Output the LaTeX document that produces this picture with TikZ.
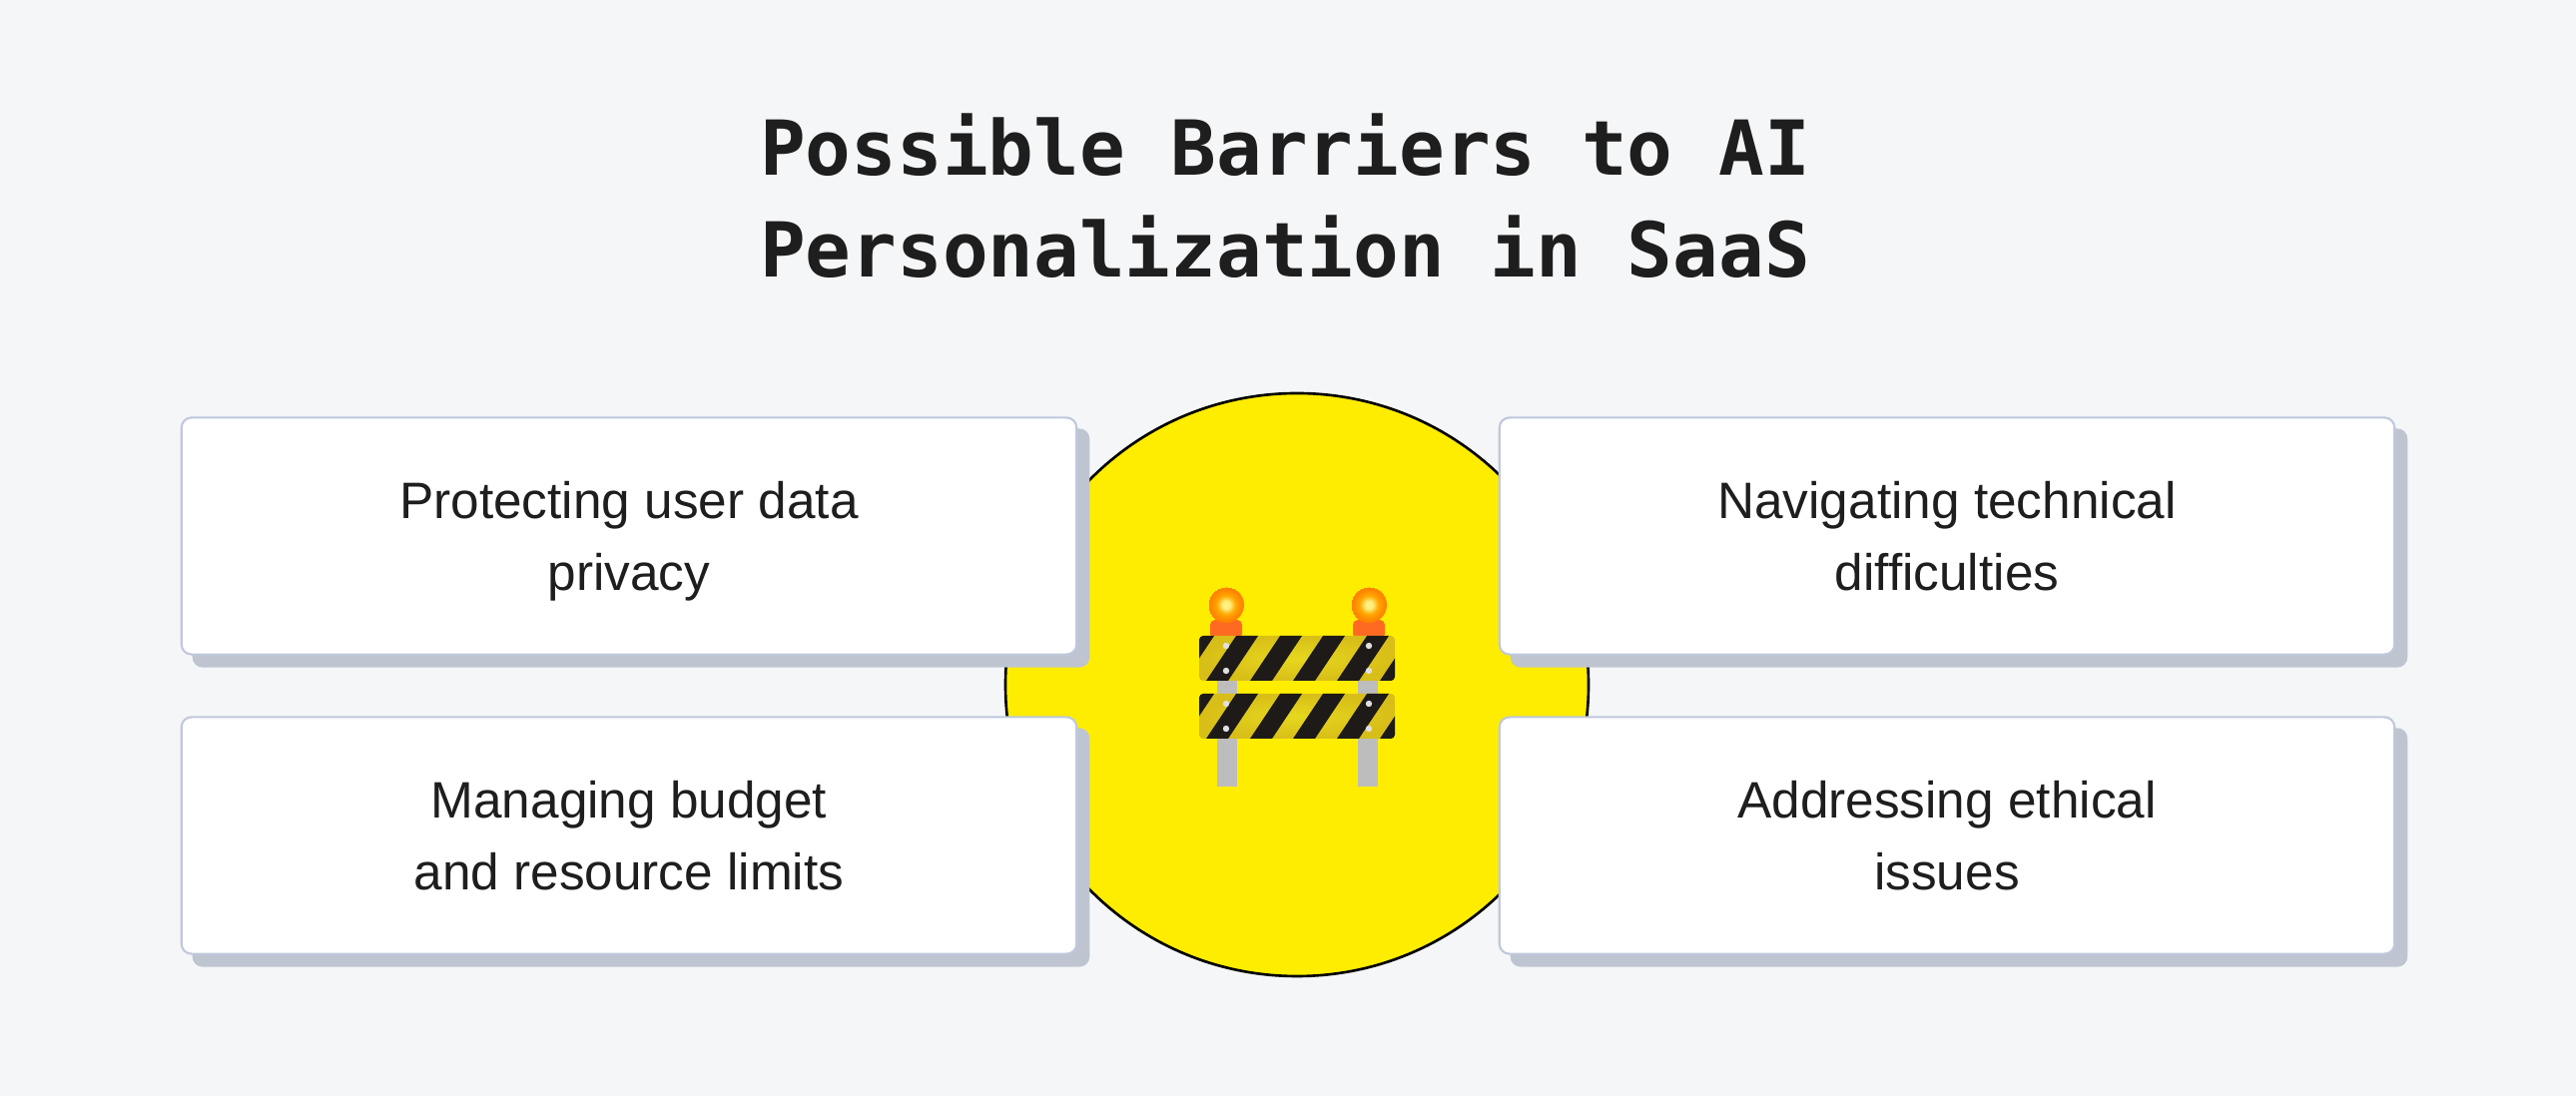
\documentclass[tikz,border=0pt]{standalone}
\usepackage{fontspec}
\setmainfont{Liberation Sans}
\newfontfamily\titlefont{DejaVu Sans Mono}
\definecolor{pagebg}{HTML}{F5F6F8}
\definecolor{signyellow}{HTML}{FFED00}
\definecolor{cardshadow}{HTML}{BEC5D1}
\definecolor{cardline}{HTML}{BFC8DC}
\definecolor{inkdark}{HTML}{1E1E1E}
\definecolor{stripeblack}{HTML}{1E1A18}
\definecolor{boardmid}{HTML}{E6D81E}
\definecolor{boardedge}{HTML}{D8BE18}
\definecolor{postgrey}{HTML}{BDBDBD}
\definecolor{lampred}{HTML}{FF6A22}
\definecolor{lamprim}{HTML}{FF8400}
\definecolor{lampmid}{HTML}{FFA800}
\definecolor{lampcore}{HTML}{FFF080}
\pgfdeclareradialshading{lampglow}{\pgfpointorigin}{color(0bp)=(lampcore);color(5bp)=(lampcore);color(13bp)=(lampmid);color(22bp)=(lamprim);color(25bp)=(lamprim)}
\tikzset{
  barriercard/.style={draw=cardline,line width=0.6pt,fill=white,rounded corners=1mm,minimum width=8.96cm,minimum height=2.37cm,align=center,text=inkdark,font=\fontsize{14.6pt}{20.5pt}\selectfont,execute at begin node=\rule[-3.6pt]{0pt}{38.4pt}},
  cardback/.style={fill=cardshadow,rounded corners=1mm,minimum width=8.98cm,minimum height=2.39cm},
  lampbase/.style={fill=lampred,rounded corners=0.5mm},
}
\begin{document}
\begin{tikzpicture}[x=0.01cm,y=-0.01cm]
\fill[pagebg](0,0)rectangle(2580,1098);
\node[font=\titlefont\bfseries\fontsize{21.6pt}{29pt}\selectfont,text=inkdark,align=center](title)at(1287,196){Possible Barriers to AI\\Personalization in SaaS};
\draw[fill=signyellow,line width=0.75pt](1299,686)circle(292);
\node[cardback](shadowa)at(642,549){};
\node[cardback](shadowb)at(642,849){};
\node[cardback](shadowc)at(1962,549){};
\node[cardback](shadowd)at(1962,849){};
\node[barriercard](privacy)at(630,537){Protecting user data\\privacy};
\node[barriercard](budget)at(630,837){Managing budget\\and resource limits};
\node[barriercard](technical)at(1950,537){Navigating technical\\difficulties};
\node[barriercard](ethical)at(1950,837){Addressing ethical\\issues};
\fill[postgrey](1219,680)rectangle(1239,788);
\fill[postgrey](1360,680)rectangle(1380,788);
\foreach \lampx in {1228,1371}{
\fill[lampbase](\lampx-16,621)rectangle(\lampx+16,640);
\shade[shading=lampglow](\lampx,606)circle(18);
}
\foreach \boardy in {637,695}{
\begin{scope}
\clip[rounded corners=0.4mm](1201,\boardy)rectangle(1397,\boardy+45);
\shade[inner color=boardmid,outer color=boardedge](1201,\boardy)rectangle(1397,\boardy+45);
\foreach \stripex in {1164,1208,1252,1295,1339,1382}{
\fill[stripeblack](\stripex,\boardy+45)--(\stripex+22,\boardy+45)--(\stripex+52,\boardy)--(\stripex+30,\boardy)--cycle;
}
\end{scope}
\foreach \boltx in {1228,1371}{
\fill[white!88!black](\boltx,\boardy+10)circle(3.2);
\fill[white!88!black](\boltx,\boardy+35)circle(3.2);
}
}
\end{tikzpicture}
\end{document}
